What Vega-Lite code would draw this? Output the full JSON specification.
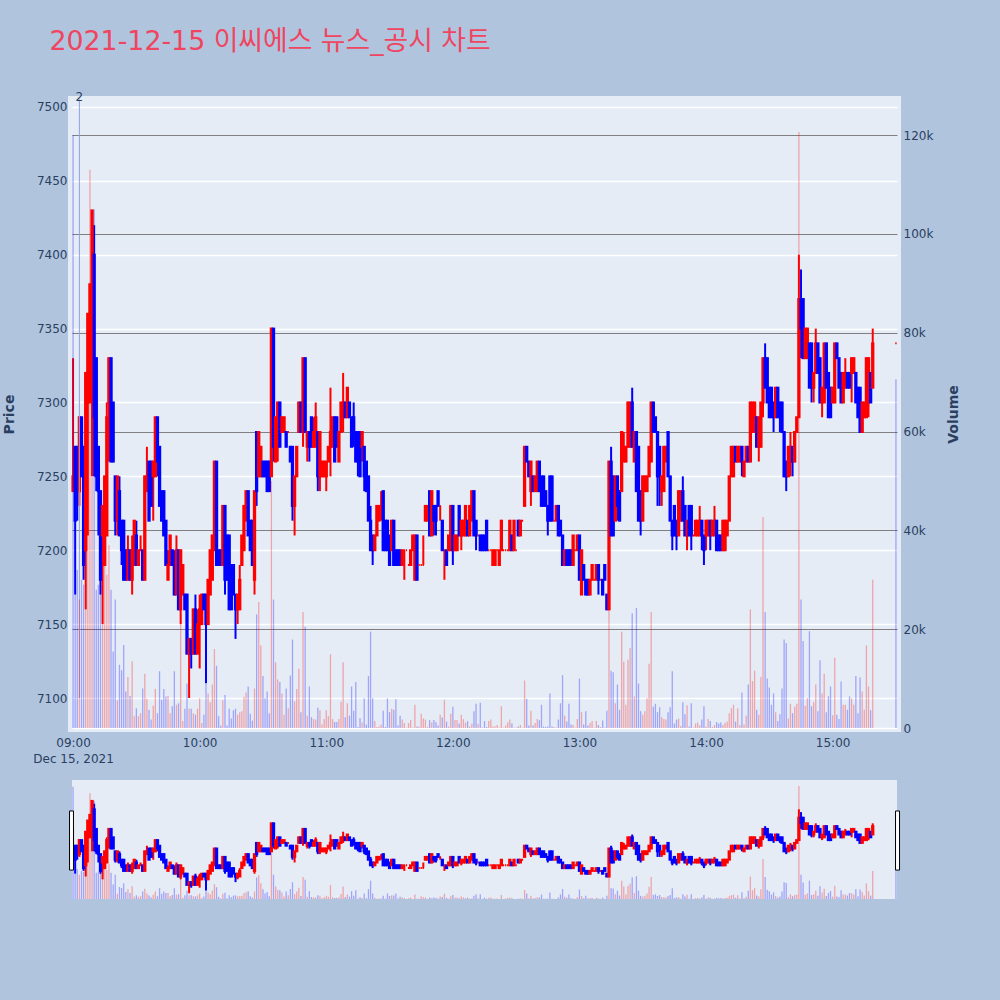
{
"$schema":"https://vega.github.io/schema/vega-lite/v6.json",
"background":"#B0C4DE",
"padding":{"left":-2,"top":28,"right":35,"bottom":103},
"title":{"text":"2021-12-15 이씨에스 뉴스_공시 차트","anchor":"start","frame":"bounds","fontSize":26.8,"fontWeight":"normal","color":"#EF4560","font":"DejaVu Sans, Noto Sans CJK KR","dx":51,"dy":5,"offset":36},
"config":{"font":"DejaVu Sans","axis":{"labelColor":"#2a3f5f","titleColor":"#2a3f5f","labelFontSize":12,"titleFontSize":14,"titleFontWeight":"bold","domain":false,"ticks":false}},
"spacing":12,
"datasets":{
"note":[{"t":"2021-12-15T09:03","p0":7100,"p1":7505,"label":"2"}],
"handles":[{"t0":"2021-12-15T08:58:20","t1":"2021-12-15T09:00:12","p0":7183,"p1":7394},{"t0":"2021-12-15T15:29:48","t1":"2021-12-15T15:31:42","p0":7183,"p1":7394}],
"ohlcv":[
{"t":"2021-12-15T09:00","o":7240,"h":7330,"l":7240,"c":7250,"v":120000,"s":"down"},
{"t":"2021-12-15T09:01","o":7270,"h":7270,"l":7170,"c":7220,"v":27000},
{"t":"2021-12-15T09:02","o":7270,"h":7270,"l":7220,"c":7240,"v":32000},
{"t":"2021-12-15T09:03","o":7240,"h":7290,"l":7230,"c":7290,"v":26000},
{"t":"2021-12-15T09:04","o":7290,"h":7290,"l":7250,"c":7250,"v":30000},
{"t":"2021-12-15T09:05","o":7270,"h":7270,"l":7180,"c":7190,"v":29000},
{"t":"2021-12-15T09:06","o":7200,"h":7320,"l":7160,"c":7320,"v":50000},
{"t":"2021-12-15T09:07","o":7300,"h":7360,"l":7210,"c":7360,"v":77000},
{"t":"2021-12-15T09:08","o":7300,"h":7380,"l":7300,"c":7380,"v":113000},
{"t":"2021-12-15T09:09","o":7340,"h":7430,"l":7250,"c":7430,"v":96000},
{"t":"2021-12-15T09:10","o":7400,"h":7420,"l":7250,"c":7290,"v":105000},
{"t":"2021-12-15T09:11","o":7330,"h":7330,"l":7240,"c":7250,"v":28000},
{"t":"2021-12-15T09:12","o":7270,"h":7270,"l":7210,"c":7240,"v":29000},
{"t":"2021-12-15T09:13","o":7240,"h":7240,"l":7170,"c":7180,"v":29000},
{"t":"2021-12-15T09:14","o":7210,"h":7230,"l":7150,"c":7230,"v":36000},
{"t":"2021-12-15T09:15","o":7190,"h":7250,"l":7190,"c":7250,"v":40000},
{"t":"2021-12-15T09:16","o":7210,"h":7300,"l":7210,"c":7290,"v":31000},
{"t":"2021-12-15T09:17","o":7300,"h":7330,"l":7260,"c":7330,"v":37000},
{"t":"2021-12-15T09:18","o":7330,"h":7330,"l":7260,"c":7260,"v":28000},
{"t":"2021-12-15T09:19","o":7300,"h":7300,"l":7260,"c":7260,"v":15500},
{"t":"2021-12-15T09:20","o":7250,"h":7250,"l":7210,"c":7220,"v":26000},
{"t":"2021-12-15T09:21","o":7220,"h":7250,"l":7210,"c":7250,"v":5600},
{"t":"2021-12-15T09:22","o":7240,"h":7250,"l":7210,"c":7210,"v":12800},
{"t":"2021-12-15T09:23","o":7220,"h":7220,"l":7190,"c":7200,"v":11700},
{"t":"2021-12-15T09:24","o":7220,"h":7220,"l":7180,"c":7180,"v":16800},
{"t":"2021-12-15T09:25","o":7200,"h":7200,"l":7180,"c":7180,"v":7400},
{"t":"2021-12-15T09:26","o":7180,"h":7210,"l":7180,"c":7200,"v":10300},
{"t":"2021-12-15T09:27","o":7200,"h":7200,"l":7180,"c":7180,"v":6500},
{"t":"2021-12-15T09:28","o":7180,"h":7210,"l":7170,"c":7200,"v":13500},
{"t":"2021-12-15T09:29","o":7190,"h":7220,"l":7190,"c":7220,"v":2400},
{"t":"2021-12-15T09:30","o":7210,"h":7220,"l":7190,"c":7190,"v":4000},
{"t":"2021-12-15T09:31","o":7190,"h":7200,"l":7190,"c":7200,"v":2400},
{"t":"2021-12-15T09:32","o":7200,"h":7210,"l":7200,"c":7200,"v":3000},
{"t":"2021-12-15T09:33","o":7200,"h":7200,"l":7180,"c":7180,"v":8000},
{"t":"2021-12-15T09:34","o":7180,"h":7250,"l":7180,"c":7250,"v":11000},
{"t":"2021-12-15T09:35","o":7240,"h":7270,"l":7240,"c":7250,"v":5900},
{"t":"2021-12-15T09:36","o":7260,"h":7260,"l":7220,"c":7220,"v":3700},
{"t":"2021-12-15T09:37","o":7260,"h":7260,"l":7230,"c":7230,"v":1700},
{"t":"2021-12-15T09:38","o":7250,"h":7260,"l":7220,"c":7260,"v":4500},
{"t":"2021-12-15T09:39","o":7250,"h":7290,"l":7250,"c":7290,"v":7900},
{"t":"2021-12-15T09:40","o":7290,"h":7290,"l":7250,"c":7260,"v":3000},
{"t":"2021-12-15T09:41","o":7270,"h":7270,"l":7230,"c":7230,"v":11500},
{"t":"2021-12-15T09:42","o":7240,"h":7240,"l":7220,"c":7220,"v":5700},
{"t":"2021-12-15T09:43","o":7240,"h":7240,"l":7210,"c":7210,"v":7900},
{"t":"2021-12-15T09:44","o":7220,"h":7220,"l":7190,"c":7190,"v":6400},
{"t":"2021-12-15T09:45","o":7180,"h":7200,"l":7180,"c":7190,"v":6500},
{"t":"2021-12-15T09:46","o":7190,"h":7210,"l":7190,"c":7210,"v":3000},
{"t":"2021-12-15T09:47","o":7200,"h":7200,"l":7190,"c":7190,"v":4400},
{"t":"2021-12-15T09:48","o":7190,"h":7200,"l":7170,"c":7170,"v":11500},
{"t":"2021-12-15T09:49","o":7170,"h":7210,"l":7170,"c":7200,"v":4700},
{"t":"2021-12-15T09:50","o":7200,"h":7200,"l":7160,"c":7160,"v":5000},
{"t":"2021-12-15T09:51","o":7160,"h":7200,"l":7150,"c":7200,"v":23000},
{"t":"2021-12-15T09:52","o":7170,"h":7190,"l":7170,"c":7190,"v":1400},
{"t":"2021-12-15T09:53","o":7170,"h":7170,"l":7160,"c":7160,"v":3900},
{"t":"2021-12-15T09:54","o":7170,"h":7170,"l":7130,"c":7130,"v":9000},
{"t":"2021-12-15T09:55","o":7130,"h":7140,"l":7100,"c":7140,"v":3900},
{"t":"2021-12-15T09:56","o":7140,"h":7140,"l":7120,"c":7130,"v":3900},
{"t":"2021-12-15T09:57","o":7130,"h":7160,"l":7130,"c":7160,"v":3000},
{"t":"2021-12-15T09:58","o":7160,"h":7170,"l":7130,"c":7130,"v":2700},
{"t":"2021-12-15T09:59","o":7130,"h":7160,"l":7130,"c":7150,"v":3900},
{"t":"2021-12-15T10:00","o":7150,"h":7170,"l":7120,"c":7160,"v":6000},
{"t":"2021-12-15T10:01","o":7150,"h":7170,"l":7150,"c":7170,"v":1000},
{"t":"2021-12-15T10:02","o":7170,"h":7170,"l":7160,"c":7160,"v":2700},
{"t":"2021-12-15T10:03","o":7170,"h":7170,"l":7110,"c":7150,"v":9000},
{"t":"2021-12-15T10:04","o":7150,"h":7180,"l":7150,"c":7180,"v":7000},
{"t":"2021-12-15T10:05","o":7170,"h":7200,"l":7170,"c":7200,"v":5200},
{"t":"2021-12-15T10:06","o":7180,"h":7210,"l":7180,"c":7210,"v":8800},
{"t":"2021-12-15T10:07","o":7200,"h":7260,"l":7200,"c":7260,"v":16000},
{"t":"2021-12-15T10:08","o":7260,"h":7260,"l":7190,"c":7190,"v":12600},
{"t":"2021-12-15T10:09","o":7200,"h":7200,"l":7190,"c":7190,"v":2400},
{"t":"2021-12-15T10:10","o":7200,"h":7200,"l":7190,"c":7190,"v":500},
{"t":"2021-12-15T10:11","o":7190,"h":7230,"l":7190,"c":7230,"v":5600},
{"t":"2021-12-15T10:12","o":7230,"h":7230,"l":7170,"c":7180,"v":6700},
{"t":"2021-12-15T10:13","o":7210,"h":7210,"l":7180,"c":7180,"v":500},
{"t":"2021-12-15T10:14","o":7210,"h":7210,"l":7160,"c":7160,"v":3900},
{"t":"2021-12-15T10:15","o":7190,"h":7190,"l":7160,"c":7160,"v":1900},
{"t":"2021-12-15T10:16","o":7190,"h":7190,"l":7170,"c":7170,"v":3600},
{"t":"2021-12-15T10:17","o":7170,"h":7170,"l":7140,"c":7160,"v":3900},
{"t":"2021-12-15T10:18","o":7160,"h":7170,"l":7150,"c":7170,"v":2700},
{"t":"2021-12-15T10:19","o":7160,"h":7190,"l":7160,"c":7180,"v":3200},
{"t":"2021-12-15T10:20","o":7190,"h":7210,"l":7190,"c":7210,"v":3400},
{"t":"2021-12-15T10:21","o":7200,"h":7230,"l":7200,"c":7230,"v":6300},
{"t":"2021-12-15T10:22","o":7220,"h":7240,"l":7220,"c":7240,"v":7200},
{"t":"2021-12-15T10:23","o":7240,"h":7240,"l":7210,"c":7210,"v":8400},
{"t":"2021-12-15T10:24","o":7220,"h":7220,"l":7200,"c":7200,"v":2900},
{"t":"2021-12-15T10:25","o":7220,"h":7220,"l":7190,"c":7190,"v":1500},
{"t":"2021-12-15T10:26","o":7180,"h":7240,"l":7170,"c":7240,"v":8000},
{"t":"2021-12-15T10:27","o":7280,"h":7280,"l":7230,"c":7240,"v":23000},
{"t":"2021-12-15T10:28","o":7250,"h":7280,"l":7250,"c":7280,"v":25500},
{"t":"2021-12-15T10:29","o":7250,"h":7270,"l":7250,"c":7270,"v":16700},
{"t":"2021-12-15T10:30","o":7260,"h":7260,"l":7250,"c":7250,"v":10500},
{"t":"2021-12-15T10:31","o":7260,"h":7260,"l":7250,"c":7250,"v":6000},
{"t":"2021-12-15T10:32","o":7260,"h":7260,"l":7240,"c":7240,"v":7400},
{"t":"2021-12-15T10:33","o":7260,"h":7260,"l":7240,"c":7240,"v":3000},
{"t":"2021-12-15T10:34","o":7250,"h":7350,"l":7250,"c":7350,"v":50000},
{"t":"2021-12-15T10:35","o":7350,"h":7350,"l":7260,"c":7270,"v":26000},
{"t":"2021-12-15T10:36","o":7260,"h":7290,"l":7260,"c":7290,"v":13300},
{"t":"2021-12-15T10:37","o":7270,"h":7300,"l":7260,"c":7300,"v":9800},
{"t":"2021-12-15T10:38","o":7300,"h":7300,"l":7270,"c":7270,"v":9300},
{"t":"2021-12-15T10:39","o":7280,"h":7290,"l":7280,"c":7290,"v":7000},
{"t":"2021-12-15T10:40","o":7280,"h":7290,"l":7280,"c":7290,"v":2700},
{"t":"2021-12-15T10:41","o":7280,"h":7280,"l":7270,"c":7270,"v":8000},
{"t":"2021-12-15T10:42","o":7280,"h":7280,"l":7280,"c":7280,"v":4000},
{"t":"2021-12-15T10:43","o":7270,"h":7270,"l":7260,"c":7260,"v":10600},
{"t":"2021-12-15T10:44","o":7270,"h":7270,"l":7220,"c":7230,"v":17900},
{"t":"2021-12-15T10:45","o":7230,"h":7250,"l":7210,"c":7250,"v":5400},
{"t":"2021-12-15T10:46","o":7250,"h":7270,"l":7250,"c":7270,"v":7900},
{"t":"2021-12-15T10:47","o":7280,"h":7300,"l":7280,"c":7300,"v":12000},
{"t":"2021-12-15T10:48","o":7300,"h":7300,"l":7280,"c":7280,"v":3200},
{"t":"2021-12-15T10:49","o":7280,"h":7330,"l":7270,"c":7330,"v":23500},
{"t":"2021-12-15T10:50","o":7330,"h":7330,"l":7280,"c":7280,"v":20500},
{"t":"2021-12-15T10:51","o":7270,"h":7280,"l":7260,"c":7280,"v":2500},
{"t":"2021-12-15T10:52","o":7280,"h":7280,"l":7260,"c":7270,"v":8400},
{"t":"2021-12-15T10:53","o":7290,"h":7290,"l":7270,"c":7270,"v":2200},
{"t":"2021-12-15T10:54","o":7270,"h":7290,"l":7270,"c":7280,"v":1800},
{"t":"2021-12-15T10:55","o":7270,"h":7300,"l":7270,"c":7290,"v":1700},
{"t":"2021-12-15T10:56","o":7280,"h":7280,"l":7240,"c":7250,"v":4100},
{"t":"2021-12-15T10:57","o":7250,"h":7280,"l":7240,"c":7280,"v":3600},
{"t":"2021-12-15T10:58","o":7250,"h":7260,"l":7250,"c":7260,"v":700},
{"t":"2021-12-15T10:59","o":7250,"h":7260,"l":7250,"c":7260,"v":1800},
{"t":"2021-12-15T11:00","o":7250,"h":7260,"l":7240,"c":7260,"v":3600},
{"t":"2021-12-15T11:01","o":7260,"h":7270,"l":7260,"c":7270,"v":2400},
{"t":"2021-12-15T11:02","o":7270,"h":7310,"l":7250,"c":7280,"v":14900},
{"t":"2021-12-15T11:03","o":7270,"h":7290,"l":7270,"c":7290,"v":1800},
{"t":"2021-12-15T11:04","o":7290,"h":7290,"l":7260,"c":7260,"v":1200},
{"t":"2021-12-15T11:05","o":7290,"h":7290,"l":7270,"c":7270,"v":1200},
{"t":"2021-12-15T11:06","o":7260,"h":7280,"l":7260,"c":7280,"v":1800},
{"t":"2021-12-15T11:07","o":7280,"h":7300,"l":7280,"c":7300,"v":5300},
{"t":"2021-12-15T11:08","o":7290,"h":7320,"l":7280,"c":7300,"v":13300},
{"t":"2021-12-15T11:09","o":7300,"h":7300,"l":7290,"c":7290,"v":2200},
{"t":"2021-12-15T11:10","o":7290,"h":7310,"l":7290,"c":7310,"v":5000},
{"t":"2021-12-15T11:11","o":7300,"h":7300,"l":7290,"c":7290,"v":2500},
{"t":"2021-12-15T11:12","o":7290,"h":7290,"l":7270,"c":7270,"v":8400},
{"t":"2021-12-15T11:13","o":7290,"h":7300,"l":7270,"c":7280,"v":3500},
{"t":"2021-12-15T11:14","o":7280,"h":7280,"l":7260,"c":7260,"v":9300},
{"t":"2021-12-15T11:15","o":7280,"h":7280,"l":7250,"c":7260,"v":200},
{"t":"2021-12-15T11:16","o":7280,"h":7280,"l":7250,"c":7250,"v":2000},
{"t":"2021-12-15T11:17","o":7270,"h":7280,"l":7260,"c":7280,"v":1100},
{"t":"2021-12-15T11:18","o":7270,"h":7270,"l":7240,"c":7250,"v":6000},
{"t":"2021-12-15T11:19","o":7260,"h":7260,"l":7240,"c":7240,"v":700},
{"t":"2021-12-15T11:20","o":7250,"h":7250,"l":7220,"c":7220,"v":10500},
{"t":"2021-12-15T11:21","o":7220,"h":7230,"l":7200,"c":7200,"v":19500},
{"t":"2021-12-15T11:22","o":7210,"h":7210,"l":7190,"c":7200,"v":6000},
{"t":"2021-12-15T11:23","o":7200,"h":7210,"l":7200,"c":7210,"v":1400},
{"t":"2021-12-15T11:24","o":7210,"h":7230,"l":7210,"c":7230,"v":200},
{"t":"2021-12-15T11:25","o":7220,"h":7230,"l":7220,"c":7230,"v":300},
{"t":"2021-12-15T11:26","o":7230,"h":7240,"l":7220,"c":7230,"v":700},
{"t":"2021-12-15T11:27","o":7240,"h":7240,"l":7200,"c":7200,"v":3500},
{"t":"2021-12-15T11:28","o":7220,"h":7220,"l":7200,"c":7200,"v":200},
{"t":"2021-12-15T11:29","o":7220,"h":7220,"l":7200,"c":7200,"v":6000},
{"t":"2021-12-15T11:30","o":7210,"h":7210,"l":7190,"c":7190,"v":3200},
{"t":"2021-12-15T11:31","o":7200,"h":7220,"l":7200,"c":7220,"v":3900},
{"t":"2021-12-15T11:32","o":7220,"h":7220,"l":7190,"c":7190,"v":3700},
{"t":"2021-12-15T11:33","o":7200,"h":7200,"l":7190,"c":7190,"v":5800},
{"t":"2021-12-15T11:34","o":7200,"h":7200,"l":7190,"c":7190,"v":500},
{"t":"2021-12-15T11:35","o":7200,"h":7200,"l":7190,"c":7190,"v":2500},
{"t":"2021-12-15T11:36","o":7190,"h":7200,"l":7190,"c":7200,"v":1700},
{"t":"2021-12-15T11:37","o":7200,"h":7200,"l":7180,"c":7200,"v":1000},
{"t":"2021-12-15T11:38","o":7200,"h":7200,"l":7200,"c":7200,"v":100},
{"t":"2021-12-15T11:39","o":7190,"h":7190,"l":7190,"c":7190,"v":1000},
{"t":"2021-12-15T11:40","o":7190,"h":7200,"l":7190,"c":7200,"v":1600},
{"t":"2021-12-15T11:41","o":7200,"h":7210,"l":7200,"c":7210,"v":100},
{"t":"2021-12-15T11:42","o":7180,"h":7210,"l":7180,"c":7210,"v":4700},
{"t":"2021-12-15T11:43","o":7210,"h":7210,"l":7180,"c":7180,"v":300},
{"t":"2021-12-15T11:44","o":7190,"h":7190,"l":7190,"c":7190,"v":300},
{"t":"2021-12-15T11:45","o":7190,"h":7190,"l":7190,"c":7190,"v":2900},
{"t":"2021-12-15T11:46","o":7190,"h":7210,"l":7190,"c":7190,"v":1900},
{"t":"2021-12-15T11:47","o":7220,"h":7230,"l":7220,"c":7230,"v":1700},
{"t":"2021-12-15T11:48","o":7220,"h":7230,"l":7220,"c":7230,"v":200},
{"t":"2021-12-15T11:49","o":7240,"h":7240,"l":7210,"c":7210,"v":1600},
{"t":"2021-12-15T11:50","o":7210,"h":7240,"l":7210,"c":7240,"v":1100},
{"t":"2021-12-15T11:51","o":7230,"h":7230,"l":7210,"c":7220,"v":1600},
{"t":"2021-12-15T11:52","o":7230,"h":7230,"l":7210,"c":7220,"v":1200},
{"t":"2021-12-15T11:53","o":7240,"h":7240,"l":7230,"c":7230,"v":500},
{"t":"2021-12-15T11:54","o":7230,"h":7230,"l":7220,"c":7230,"v":2700},
{"t":"2021-12-15T11:55","o":7220,"h":7220,"l":7200,"c":7200,"v":2100},
{"t":"2021-12-15T11:56","o":7200,"h":7200,"l":7180,"c":7200,"v":5700},
{"t":"2021-12-15T11:57","o":7200,"h":7200,"l":7190,"c":7190,"v":1300},
{"t":"2021-12-15T11:58","o":7200,"h":7210,"l":7200,"c":7210,"v":300},
{"t":"2021-12-15T11:59","o":7200,"h":7230,"l":7200,"c":7230,"v":2900},
{"t":"2021-12-15T12:00","o":7230,"h":7230,"l":7190,"c":7200,"v":4300},
{"t":"2021-12-15T12:01","o":7200,"h":7210,"l":7200,"c":7210,"v":1600},
{"t":"2021-12-15T12:02","o":7200,"h":7210,"l":7200,"c":7210,"v":1600},
{"t":"2021-12-15T12:03","o":7230,"h":7230,"l":7210,"c":7210,"v":900},
{"t":"2021-12-15T12:04","o":7210,"h":7220,"l":7200,"c":7220,"v":2700},
{"t":"2021-12-15T12:05","o":7210,"h":7220,"l":7210,"c":7220,"v":1800},
{"t":"2021-12-15T12:06","o":7210,"h":7230,"l":7210,"c":7230,"v":1100},
{"t":"2021-12-15T12:07","o":7220,"h":7220,"l":7210,"c":7210,"v":1400},
{"t":"2021-12-15T12:08","o":7210,"h":7230,"l":7210,"c":7230,"v":300},
{"t":"2021-12-15T12:09","o":7220,"h":7240,"l":7220,"c":7240,"v":900},
{"t":"2021-12-15T12:10","o":7240,"h":7240,"l":7210,"c":7210,"v":3400},
{"t":"2021-12-15T12:11","o":7220,"h":7220,"l":7200,"c":7210,"v":4900},
{"t":"2021-12-15T12:12","o":7210,"h":7210,"l":7210,"c":7210,"v":800},
{"t":"2021-12-15T12:13","o":7210,"h":7210,"l":7200,"c":7200,"v":5100},
{"t":"2021-12-15T12:14","o":7210,"h":7210,"l":7200,"c":7200,"v":100},
{"t":"2021-12-15T12:15","o":7210,"h":7210,"l":7200,"c":7200,"v":1400},
{"t":"2021-12-15T12:16","o":7220,"h":7220,"l":7200,"c":7200,"v":200},
{"t":"2021-12-15T12:17","o":7200,"h":7200,"l":7200,"c":7200,"v":1400},
{"t":"2021-12-15T12:18","o":7200,"h":7200,"l":7200,"c":7200,"v":1700},
{"t":"2021-12-15T12:19","o":7190,"h":7200,"l":7190,"c":7200,"v":300},
{"t":"2021-12-15T12:20","o":7190,"h":7200,"l":7190,"c":7200,"v":300},
{"t":"2021-12-15T12:21","o":7200,"h":7200,"l":7200,"c":7200,"v":600},
{"t":"2021-12-15T12:22","o":7190,"h":7200,"l":7190,"c":7200,"v":100},
{"t":"2021-12-15T12:23","o":7200,"h":7220,"l":7200,"c":7220,"v":4400},
{"t":"2021-12-15T12:24","o":7200,"h":7200,"l":7200,"c":7200,"v":100},
{"t":"2021-12-15T12:25","o":7200,"h":7200,"l":7200,"c":7200,"v":500},
{"t":"2021-12-15T12:26","o":7200,"h":7200,"l":7200,"c":7200,"v":1100},
{"t":"2021-12-15T12:27","o":7200,"h":7220,"l":7200,"c":7220,"v":1700},
{"t":"2021-12-15T12:28","o":7210,"h":7210,"l":7200,"c":7200,"v":900},
{"t":"2021-12-15T12:29","o":7200,"h":7220,"l":7200,"c":7220,"v":100},
{"t":"2021-12-15T12:30","o":7200,"h":7200,"l":7200,"c":7200,"v":100},
{"t":"2021-12-15T12:31","o":7220,"h":7220,"l":7210,"c":7210,"v":300},
{"t":"2021-12-15T12:32","o":7210,"h":7220,"l":7210,"c":7220,"v":600},
{"t":"2021-12-15T12:33","o":7220,"h":7220,"l":7220,"c":7220,"v":100},
{"t":"2021-12-15T12:34","o":7230,"h":7270,"l":7230,"c":7270,"v":9600},
{"t":"2021-12-15T12:35","o":7270,"h":7270,"l":7260,"c":7260,"v":5900},
{"t":"2021-12-15T12:36","o":7260,"h":7260,"l":7250,"c":7250,"v":500},
{"t":"2021-12-15T12:37","o":7240,"h":7260,"l":7230,"c":7260,"v":3500},
{"t":"2021-12-15T12:38","o":7250,"h":7250,"l":7240,"c":7240,"v":500},
{"t":"2021-12-15T12:39","o":7240,"h":7250,"l":7240,"c":7250,"v":1000},
{"t":"2021-12-15T12:40","o":7240,"h":7260,"l":7240,"c":7260,"v":1800},
{"t":"2021-12-15T12:41","o":7260,"h":7260,"l":7240,"c":7240,"v":1600},
{"t":"2021-12-15T12:42","o":7250,"h":7250,"l":7230,"c":7230,"v":4700},
{"t":"2021-12-15T12:43","o":7250,"h":7250,"l":7230,"c":7230,"v":300},
{"t":"2021-12-15T12:44","o":7240,"h":7240,"l":7230,"c":7230,"v":200},
{"t":"2021-12-15T12:45","o":7230,"h":7230,"l":7210,"c":7220,"v":300},
{"t":"2021-12-15T12:46","o":7250,"h":7250,"l":7220,"c":7220,"v":7000},
{"t":"2021-12-15T12:47","o":7250,"h":7250,"l":7220,"c":7220,"v":300},
{"t":"2021-12-15T12:48","o":7220,"h":7220,"l":7220,"c":7220,"v":200},
{"t":"2021-12-15T12:49","o":7220,"h":7230,"l":7220,"c":7230,"v":100},
{"t":"2021-12-15T12:50","o":7230,"h":7230,"l":7210,"c":7210,"v":1700},
{"t":"2021-12-15T12:51","o":7220,"h":7220,"l":7210,"c":7210,"v":5000},
{"t":"2021-12-15T12:52","o":7210,"h":7210,"l":7190,"c":7190,"v":10700},
{"t":"2021-12-15T12:53","o":7190,"h":7200,"l":7190,"c":7200,"v":2500},
{"t":"2021-12-15T12:54","o":7200,"h":7200,"l":7190,"c":7190,"v":1300},
{"t":"2021-12-15T12:55","o":7200,"h":7200,"l":7190,"c":7190,"v":4900},
{"t":"2021-12-15T12:56","o":7200,"h":7200,"l":7190,"c":7190,"v":700},
{"t":"2021-12-15T12:57","o":7190,"h":7210,"l":7190,"c":7210,"v":600},
{"t":"2021-12-15T12:58","o":7200,"h":7200,"l":7200,"c":7200,"v":100},
{"t":"2021-12-15T12:59","o":7200,"h":7210,"l":7200,"c":7210,"v":1800},
{"t":"2021-12-15T13:00","o":7210,"h":7210,"l":7180,"c":7180,"v":10000},
{"t":"2021-12-15T13:01","o":7170,"h":7200,"l":7170,"c":7200,"v":3200},
{"t":"2021-12-15T13:02","o":7190,"h":7190,"l":7180,"c":7180,"v":700},
{"t":"2021-12-15T13:03","o":7180,"h":7180,"l":7170,"c":7170,"v":3400},
{"t":"2021-12-15T13:04","o":7180,"h":7180,"l":7170,"c":7170,"v":500},
{"t":"2021-12-15T13:05","o":7170,"h":7180,"l":7170,"c":7180,"v":1000},
{"t":"2021-12-15T13:06","o":7180,"h":7190,"l":7180,"c":7190,"v":1400},
{"t":"2021-12-15T13:07","o":7180,"h":7180,"l":7180,"c":7180,"v":100},
{"t":"2021-12-15T13:08","o":7180,"h":7190,"l":7180,"c":7190,"v":1400},
{"t":"2021-12-15T13:09","o":7190,"h":7190,"l":7170,"c":7180,"v":600},
{"t":"2021-12-15T13:10","o":7180,"h":7180,"l":7180,"c":7180,"v":200},
{"t":"2021-12-15T13:11","o":7180,"h":7180,"l":7170,"c":7170,"v":1500},
{"t":"2021-12-15T13:12","o":7190,"h":7190,"l":7180,"c":7180,"v":100},
{"t":"2021-12-15T13:13","o":7170,"h":7170,"l":7160,"c":7160,"v":3500},
{"t":"2021-12-15T13:14","o":7160,"h":7260,"l":7160,"c":7260,"v":40000},
{"t":"2021-12-15T13:15","o":7260,"h":7270,"l":7210,"c":7210,"v":11600},
{"t":"2021-12-15T13:16","o":7250,"h":7250,"l":7210,"c":7210,"v":11300},
{"t":"2021-12-15T13:17","o":7220,"h":7250,"l":7220,"c":7250,"v":5000},
{"t":"2021-12-15T13:18","o":7250,"h":7250,"l":7220,"c":7230,"v":8800},
{"t":"2021-12-15T13:19","o":7240,"h":7240,"l":7220,"c":7220,"v":3700},
{"t":"2021-12-15T13:20","o":7240,"h":7280,"l":7240,"c":7280,"v":19500},
{"t":"2021-12-15T13:21","o":7260,"h":7280,"l":7260,"c":7270,"v":13400},
{"t":"2021-12-15T13:22","o":7260,"h":7270,"l":7260,"c":7270,"v":4700},
{"t":"2021-12-15T13:23","o":7270,"h":7300,"l":7270,"c":7300,"v":13800},
{"t":"2021-12-15T13:24","o":7270,"h":7300,"l":7270,"c":7300,"v":16200},
{"t":"2021-12-15T13:25","o":7300,"h":7310,"l":7270,"c":7270,"v":23200},
{"t":"2021-12-15T13:26","o":7260,"h":7280,"l":7260,"c":7280,"v":6400},
{"t":"2021-12-15T13:27","o":7280,"h":7280,"l":7240,"c":7240,"v":24300},
{"t":"2021-12-15T13:28","o":7270,"h":7270,"l":7220,"c":7220,"v":9000},
{"t":"2021-12-15T13:29","o":7240,"h":7240,"l":7210,"c":7220,"v":3400},
{"t":"2021-12-15T13:30","o":7220,"h":7250,"l":7220,"c":7250,"v":2700},
{"t":"2021-12-15T13:31","o":7240,"h":7250,"l":7240,"c":7250,"v":3400},
{"t":"2021-12-15T13:32","o":7240,"h":7250,"l":7240,"c":7250,"v":6000},
{"t":"2021-12-15T13:33","o":7250,"h":7270,"l":7250,"c":7270,"v":13000},
{"t":"2021-12-15T13:34","o":7260,"h":7300,"l":7260,"c":7300,"v":23500},
{"t":"2021-12-15T13:35","o":7300,"h":7300,"l":7280,"c":7280,"v":4300},
{"t":"2021-12-15T13:36","o":7290,"h":7290,"l":7280,"c":7280,"v":4900},
{"t":"2021-12-15T13:37","o":7280,"h":7280,"l":7230,"c":7250,"v":3200},
{"t":"2021-12-15T13:38","o":7270,"h":7270,"l":7230,"c":7250,"v":4200},
{"t":"2021-12-15T13:39","o":7240,"h":7250,"l":7230,"c":7250,"v":2200},
{"t":"2021-12-15T13:40","o":7240,"h":7270,"l":7240,"c":7270,"v":1800},
{"t":"2021-12-15T13:41","o":7260,"h":7270,"l":7260,"c":7270,"v":1700},
{"t":"2021-12-15T13:42","o":7280,"h":7280,"l":7250,"c":7250,"v":3200},
{"t":"2021-12-15T13:43","o":7250,"h":7250,"l":7220,"c":7220,"v":4200},
{"t":"2021-12-15T13:44","o":7220,"h":7220,"l":7200,"c":7210,"v":11500},
{"t":"2021-12-15T13:45","o":7230,"h":7230,"l":7210,"c":7210,"v":900},
{"t":"2021-12-15T13:46","o":7220,"h":7220,"l":7200,"c":7210,"v":1700},
{"t":"2021-12-15T13:47","o":7210,"h":7240,"l":7210,"c":7240,"v":1900},
{"t":"2021-12-15T13:48","o":7220,"h":7240,"l":7220,"c":7240,"v":400},
{"t":"2021-12-15T13:49","o":7240,"h":7250,"l":7220,"c":7220,"v":5200},
{"t":"2021-12-15T13:50","o":7230,"h":7230,"l":7210,"c":7210,"v":2800},
{"t":"2021-12-15T13:51","o":7210,"h":7220,"l":7200,"c":7220,"v":4600},
{"t":"2021-12-15T13:52","o":7230,"h":7230,"l":7210,"c":7210,"v":300},
{"t":"2021-12-15T13:53","o":7230,"h":7230,"l":7200,"c":7210,"v":5000},
{"t":"2021-12-15T13:54","o":7210,"h":7210,"l":7210,"c":7210,"v":100},
{"t":"2021-12-15T13:55","o":7210,"h":7220,"l":7210,"c":7220,"v":900},
{"t":"2021-12-15T13:56","o":7210,"h":7220,"l":7210,"c":7220,"v":1100},
{"t":"2021-12-15T13:57","o":7210,"h":7230,"l":7210,"c":7220,"v":500},
{"t":"2021-12-15T13:58","o":7220,"h":7220,"l":7200,"c":7210,"v":1700},
{"t":"2021-12-15T13:59","o":7210,"h":7210,"l":7190,"c":7200,"v":4400},
{"t":"2021-12-15T14:00","o":7210,"h":7220,"l":7200,"c":7220,"v":300},
{"t":"2021-12-15T14:01","o":7210,"h":7220,"l":7210,"c":7220,"v":1800},
{"t":"2021-12-15T14:02","o":7220,"h":7220,"l":7200,"c":7210,"v":1400},
{"t":"2021-12-15T14:03","o":7210,"h":7220,"l":7210,"c":7220,"v":200},
{"t":"2021-12-15T14:04","o":7210,"h":7230,"l":7210,"c":7220,"v":600},
{"t":"2021-12-15T14:05","o":7220,"h":7220,"l":7200,"c":7200,"v":1200},
{"t":"2021-12-15T14:06","o":7210,"h":7210,"l":7200,"c":7200,"v":900},
{"t":"2021-12-15T14:07","o":7210,"h":7210,"l":7200,"c":7200,"v":1100},
{"t":"2021-12-15T14:08","o":7200,"h":7220,"l":7200,"c":7220,"v":600},
{"t":"2021-12-15T14:09","o":7200,"h":7220,"l":7200,"c":7220,"v":1000},
{"t":"2021-12-15T14:10","o":7210,"h":7220,"l":7210,"c":7220,"v":1300},
{"t":"2021-12-15T14:11","o":7220,"h":7250,"l":7220,"c":7250,"v":3000},
{"t":"2021-12-15T14:12","o":7250,"h":7270,"l":7250,"c":7270,"v":4000},
{"t":"2021-12-15T14:13","o":7250,"h":7270,"l":7250,"c":7270,"v":4700},
{"t":"2021-12-15T14:14","o":7270,"h":7270,"l":7260,"c":7260,"v":1300},
{"t":"2021-12-15T14:15","o":7260,"h":7270,"l":7260,"c":7270,"v":4000},
{"t":"2021-12-15T14:16","o":7260,"h":7270,"l":7260,"c":7270,"v":600},
{"t":"2021-12-15T14:17","o":7270,"h":7270,"l":7250,"c":7260,"v":7200},
{"t":"2021-12-15T14:18","o":7250,"h":7260,"l":7250,"c":7260,"v":700},
{"t":"2021-12-15T14:19","o":7260,"h":7270,"l":7260,"c":7270,"v":2500},
{"t":"2021-12-15T14:20","o":7270,"h":7270,"l":7260,"c":7260,"v":8800},
{"t":"2021-12-15T14:21","o":7260,"h":7300,"l":7260,"c":7300,"v":24000},
{"t":"2021-12-15T14:22","o":7280,"h":7300,"l":7280,"c":7300,"v":9500},
{"t":"2021-12-15T14:23","o":7280,"h":7300,"l":7280,"c":7300,"v":11600},
{"t":"2021-12-15T14:24","o":7290,"h":7290,"l":7270,"c":7270,"v":3700},
{"t":"2021-12-15T14:25","o":7270,"h":7290,"l":7260,"c":7290,"v":2700},
{"t":"2021-12-15T14:26","o":7270,"h":7300,"l":7270,"c":7300,"v":10300},
{"t":"2021-12-15T14:27","o":7300,"h":7330,"l":7290,"c":7330,"v":42700},
{"t":"2021-12-15T14:28","o":7330,"h":7340,"l":7310,"c":7310,"v":23500},
{"t":"2021-12-15T14:29","o":7330,"h":7330,"l":7300,"c":7300,"v":10000},
{"t":"2021-12-15T14:30","o":7310,"h":7310,"l":7290,"c":7290,"v":8200},
{"t":"2021-12-15T14:31","o":7310,"h":7310,"l":7290,"c":7290,"v":4700},
{"t":"2021-12-15T14:32","o":7300,"h":7300,"l":7280,"c":7290,"v":7000},
{"t":"2021-12-15T14:33","o":7290,"h":7310,"l":7290,"c":7310,"v":3200},
{"t":"2021-12-15T14:34","o":7310,"h":7310,"l":7290,"c":7290,"v":1400},
{"t":"2021-12-15T14:35","o":7300,"h":7300,"l":7280,"c":7290,"v":2800},
{"t":"2021-12-15T14:36","o":7300,"h":7300,"l":7280,"c":7280,"v":8000},
{"t":"2021-12-15T14:37","o":7280,"h":7280,"l":7250,"c":7250,"v":17900},
{"t":"2021-12-15T14:38","o":7260,"h":7260,"l":7240,"c":7250,"v":17200},
{"t":"2021-12-15T14:39","o":7250,"h":7270,"l":7250,"c":7270,"v":1900},
{"t":"2021-12-15T14:40","o":7260,"h":7280,"l":7250,"c":7270,"v":4900},
{"t":"2021-12-15T14:41","o":7270,"h":7270,"l":7250,"c":7260,"v":3000},
{"t":"2021-12-15T14:42","o":7260,"h":7280,"l":7260,"c":7280,"v":4300},
{"t":"2021-12-15T14:43","o":7280,"h":7290,"l":7280,"c":7290,"v":4900},
{"t":"2021-12-15T14:44","o":7290,"h":7400,"l":7290,"c":7370,"v":120600},
{"t":"2021-12-15T14:45","o":7370,"h":7390,"l":7330,"c":7350,"v":26000},
{"t":"2021-12-15T14:46","o":7370,"h":7370,"l":7330,"c":7330,"v":17600},
{"t":"2021-12-15T14:47","o":7330,"h":7350,"l":7330,"c":7350,"v":4500},
{"t":"2021-12-15T14:48","o":7330,"h":7350,"l":7330,"c":7350,"v":6000},
{"t":"2021-12-15T14:49","o":7340,"h":7340,"l":7310,"c":7310,"v":19600},
{"t":"2021-12-15T14:50","o":7340,"h":7340,"l":7300,"c":7310,"v":4400},
{"t":"2021-12-15T14:51","o":7310,"h":7320,"l":7300,"c":7320,"v":5200},
{"t":"2021-12-15T14:52","o":7320,"h":7350,"l":7320,"c":7340,"v":8800},
{"t":"2021-12-15T14:53","o":7340,"h":7340,"l":7320,"c":7320,"v":3400},
{"t":"2021-12-15T14:54","o":7330,"h":7330,"l":7300,"c":7300,"v":13700},
{"t":"2021-12-15T14:55","o":7300,"h":7310,"l":7290,"c":7310,"v":7000},
{"t":"2021-12-15T14:56","o":7300,"h":7340,"l":7300,"c":7340,"v":11000},
{"t":"2021-12-15T14:57","o":7340,"h":7340,"l":7310,"c":7310,"v":3200},
{"t":"2021-12-15T14:58","o":7320,"h":7320,"l":7290,"c":7290,"v":6400},
{"t":"2021-12-15T14:59","o":7310,"h":7310,"l":7290,"c":7290,"v":8400},
{"t":"2021-12-15T15:00","o":7300,"h":7310,"l":7300,"c":7310,"v":2600},
{"t":"2021-12-15T15:01","o":7300,"h":7340,"l":7300,"c":7340,"v":14200},
{"t":"2021-12-15T15:02","o":7340,"h":7340,"l":7330,"c":7330,"v":2700},
{"t":"2021-12-15T15:03","o":7330,"h":7330,"l":7310,"c":7310,"v":1800},
{"t":"2021-12-15T15:04","o":7320,"h":7320,"l":7300,"c":7300,"v":9400},
{"t":"2021-12-15T15:05","o":7300,"h":7320,"l":7300,"c":7320,"v":4700},
{"t":"2021-12-15T15:06","o":7310,"h":7330,"l":7310,"c":7320,"v":4700},
{"t":"2021-12-15T15:07","o":7320,"h":7320,"l":7310,"c":7310,"v":3700},
{"t":"2021-12-15T15:08","o":7320,"h":7320,"l":7310,"c":7310,"v":6400},
{"t":"2021-12-15T15:09","o":7320,"h":7330,"l":7300,"c":7330,"v":6000},
{"t":"2021-12-15T15:10","o":7320,"h":7330,"l":7320,"c":7330,"v":4700},
{"t":"2021-12-15T15:11","o":7320,"h":7320,"l":7300,"c":7300,"v":10500},
{"t":"2021-12-15T15:12","o":7310,"h":7310,"l":7290,"c":7290,"v":3000},
{"t":"2021-12-15T15:13","o":7310,"h":7310,"l":7280,"c":7280,"v":10200},
{"t":"2021-12-15T15:14","o":7280,"h":7300,"l":7280,"c":7300,"v":7400},
{"t":"2021-12-15T15:15","o":7290,"h":7300,"l":7290,"c":7300,"v":3700},
{"t":"2021-12-15T15:16","o":7290,"h":7330,"l":7290,"c":7330,"v":16700},
{"t":"2021-12-15T15:17","o":7300,"h":7330,"l":7290,"c":7330,"v":8400},
{"t":"2021-12-15T15:18","o":7320,"h":7320,"l":7300,"c":7300,"v":3600},
{"t":"2021-12-15T15:19","o":7310,"h":7350,"l":7310,"c":7340,"v":30000},
{"t":"2021-12-15T15:30","o":7340,"h":7340,"l":7340,"c":7340,"v":70600,"s":"down"}
]},
"vconcat":[
{
"width":825,"height":628,
"view":{"fill":"#E5ECF6","stroke":"#E5ECF6","strokeWidth":8},
"data":{"name":"ohlcv"},
"encoding":{"x":{"field":"t","type":"temporal","scale":{"domain":["2021-12-15T08:59:30","2021-12-15T15:30:30"],"padding":0},"axis":{"title":null,"grid":false,"values":["2021-12-15T09:00","2021-12-15T10:00","2021-12-15T11:00","2021-12-15T12:00","2021-12-15T13:00","2021-12-15T14:00","2021-12-15T15:00"],"labelExpr":"hours(datum.value)==9 ? ['09:00','Dec 15, 2021'] : timeFormat(datum.value,'%H:%M')","labelPadding":9,"labelLineHeight":16}}},
"layer":[
{"mark":{"type":"rule","strokeWidth":2},"encoding":{"y":{"field":"l","type":"quantitative","scale":{"domain":[7079.7,7504.7],"nice":false,"zero":false},"axis":{"title":"Price","orient":"left","values":[7100,7150,7200,7250,7300,7350,7400,7450,7500],"gridColor":"white","gridWidth":1.5,"grid":true,"labelPadding":5,"titlePadding":20,"format":"d"}},"y2":{"field":"h"},"color":{"condition":{"test":"datum.c>=datum.o","value":"red"},"value":"blue"}}},
{"mark":{"type":"bar","width":1.3,"strokeWidth":2},"encoding":{"y":{"field":"o","type":"quantitative","scale":{"domain":[7079.7,7504.7],"nice":false,"zero":false},"axis":null},"y2":{"field":"c"},"color":{"condition":{"test":"datum.c>=datum.o","value":"red"},"value":"blue"},"stroke":{"condition":{"test":"datum.c>=datum.o","value":"red"},"value":"blue"}}},
{"data":{"name":"note"},"mark":{"type":"rule","strokeWidth":1,"color":"#8fa0e0"},"encoding":{"y":{"field":"p0","type":"quantitative","scale":{"domain":[7079.7,7504.7],"nice":false,"zero":false},"axis":null},"y2":{"field":"p1"}}},
{"data":{"name":"note"},"mark":{"type":"text","baseline":"bottom","fontSize":12,"color":"#2a3f5f","dy":4},"encoding":{"y":{"field":"p1","type":"quantitative","scale":{"domain":[7079.7,7504.7],"nice":false,"zero":false},"axis":null},"text":{"field":"label"}}},
{"mark":{"type":"bar","width":1.3,"opacity":0.3},"encoding":{"y":{"field":"v","type":"quantitative","scale":{"domain":[0,127100],"nice":false},"axis":{"title":"Volume","titleAngle":-90,"orient":"right","values":[0,20000,40000,60000,80000,100000,120000],"labelExpr":"datum.value===0 ? '0' : format(datum.value/1000,'d')+'k'","grid":true,"gridColor":{"condition":{"test":"datum.value===0","value":"white"},"value":"#808080"},"gridWidth":{"condition":{"test":"datum.value===0","value":1.5},"value":1},"labelPadding":6,"titlePadding":28}},"color":{"condition":{"test":"datum.c>=datum.o && datum.s!=='down'","value":"red"},"value":"blue"}}}
],
"resolve":{"scale":{"y":"independent"}}
},
{
"width":825,"height":119,
"view":{"fill":"#E5ECF6","stroke":null},
"data":{"name":"ohlcv"},
"encoding":{"x":{"field":"t","type":"temporal","scale":{"domain":["2021-12-15T08:59:30","2021-12-15T15:30:30"],"padding":0},"axis":null}},
"layer":[
{"mark":{"type":"rule","strokeWidth":2},"encoding":{"y":{"field":"l","type":"quantitative","scale":{"domain":[7079.7,7504.7],"nice":false,"zero":false},"axis":null},"y2":{"field":"h"},"color":{"condition":{"test":"datum.c>=datum.o","value":"red"},"value":"blue"}}},
{"mark":{"type":"bar","width":1.3,"strokeWidth":2},"encoding":{"y":{"field":"o","type":"quantitative","scale":{"domain":[7079.7,7504.7],"nice":false,"zero":false},"axis":null},"y2":{"field":"c"},"color":{"condition":{"test":"datum.c>=datum.o","value":"red"},"value":"blue"},"stroke":{"condition":{"test":"datum.c>=datum.o","value":"red"},"value":"blue"}}},
{"mark":{"type":"bar","width":1.3,"opacity":0.3},"encoding":{"y":{"field":"v","type":"quantitative","scale":{"domain":[0,127100],"nice":false},"axis":null},"color":{"condition":{"test":"datum.c>=datum.o && datum.s!=='down'","value":"red"},"value":"blue"}}},
{"data":{"name":"handles"},"mark":{"type":"rect","fill":"white","stroke":"black","strokeWidth":1},"encoding":{"x":{"field":"t0","type":"temporal"},"x2":{"field":"t1"},"y":{"field":"p0","type":"quantitative","scale":{"domain":[7079.7,7504.7],"nice":false,"zero":false},"axis":null},"y2":{"field":"p1"}}}
],
"resolve":{"scale":{"y":"independent"}}
}
]
}
